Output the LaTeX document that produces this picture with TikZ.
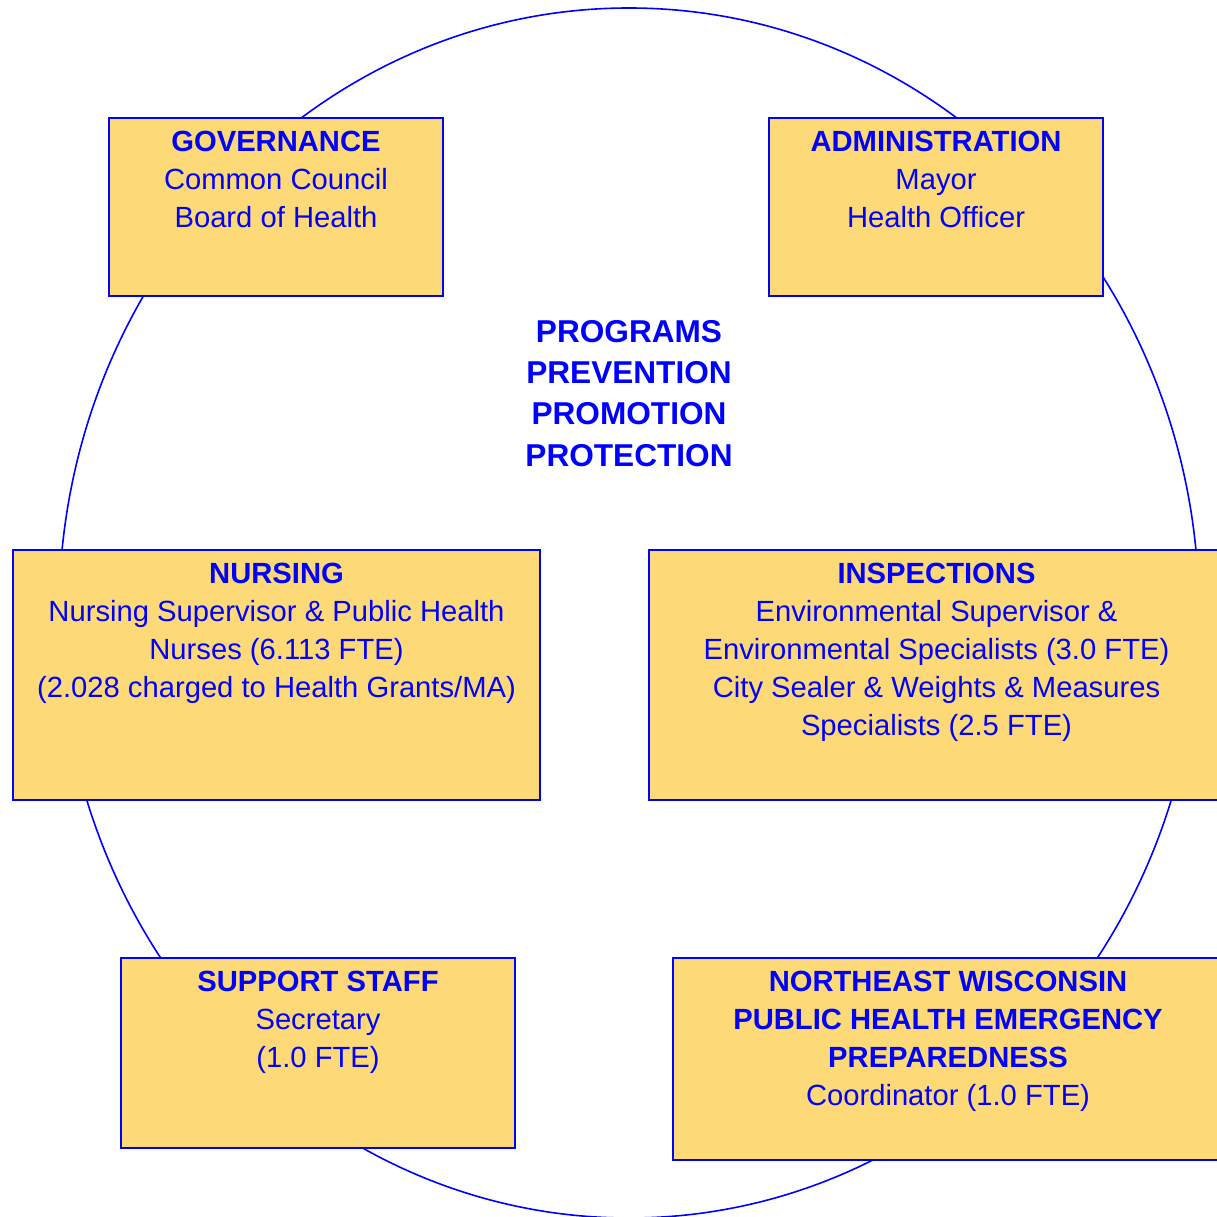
\documentclass[tikz,border=0pt]{standalone}
\usepackage{fontspec}
\usetikzlibrary{shapes.geometric}
\setmainfont{Liberation Sans}
\definecolor{boxfill}{RGB}{253,217,120}
\definecolor{ink}{RGB}{0,0,255}
\tikzset{
  orgbox/.style={draw=ink, line width=2pt, fill=boxfill, rectangle, inner sep=0pt, anchor=north west},
  boxtext/.style={text=ink, align=center, anchor=north, inner sep=0pt,
    font=\fontsize{29.2}{38}\selectfont},
  hubtext/.style={text=ink, align=center, anchor=north, inner sep=0pt,
    font=\fontsize{31.6}{41.3}\selectfont\bfseries},
  ring/.style={draw=ink, line width=1.6pt}
}
\begin{document}
\begin{tikzpicture}[x=1pt,y=-1pt]
\useasboundingbox (0,0) rectangle (1217,1217);
\clip (0,0) rectangle (1217,1217);
% ring
\node[ring, ellipse, minimum width=1140pt, minimum height=1210pt, inner sep=0pt] (ring) at (629,613) {};
% boxes
\node[orgbox, minimum width=334pt, minimum height=178pt] (gov) at (108,117) {};
\node[orgbox, minimum width=334pt, minimum height=178pt] (adm) at (768,117) {};
\node[orgbox, minimum width=527pt, minimum height=250pt] (nur) at (12,549) {};
\node[orgbox, minimum width=575pt, minimum height=250pt] (ins) at (648,549) {};
\node[orgbox, minimum width=394pt, minimum height=190pt] (sup) at (120,957) {};
\node[orgbox, minimum width=550pt, minimum height=202pt] (nep) at (672,957) {};
% texts
\node[boxtext] (govt) at ([yshift=-14.2pt]gov.north) {\textbf{GOVERNANCE}\\Common Council\\Board of Health};
\node[boxtext] (admt) at ([yshift=-14.2pt]adm.north) {\textbf{ADMINISTRATION}\\Mayor\\Health Officer};
\node[boxtext] (nurt) at ([yshift=-14.2pt]nur.north) {\textbf{NURSING}\\Nursing Supervisor \& Public Health\\Nurses (6.113 FTE)\\(2.028 charged to Health Grants/MA)};
\node[boxtext] (inst) at ([yshift=-14.2pt]ins.north) {\textbf{INSPECTIONS}\\Environmental Supervisor \&\\Environmental Specialists (3.0 FTE)\\City Sealer \& Weights \& Measures\\Specialists (2.5 FTE)};
\node[boxtext] (supt) at ([yshift=-14.2pt]sup.north) {\textbf{SUPPORT STAFF}\\Secretary\\(1.0 FTE)};
\node[boxtext] (nept) at ([yshift=-14.2pt]nep.north) {\textbf{NORTHEAST WISCONSIN}\\\textbf{PUBLIC HEALTH EMERGENCY}\\\textbf{PREPAREDNESS}\\Coordinator (1.0 FTE)};
\node[hubtext] (hub) at (629,320) {PROGRAMS\\PREVENTION\\PROMOTION\\PROTECTION};
\end{tikzpicture}
\end{document}
